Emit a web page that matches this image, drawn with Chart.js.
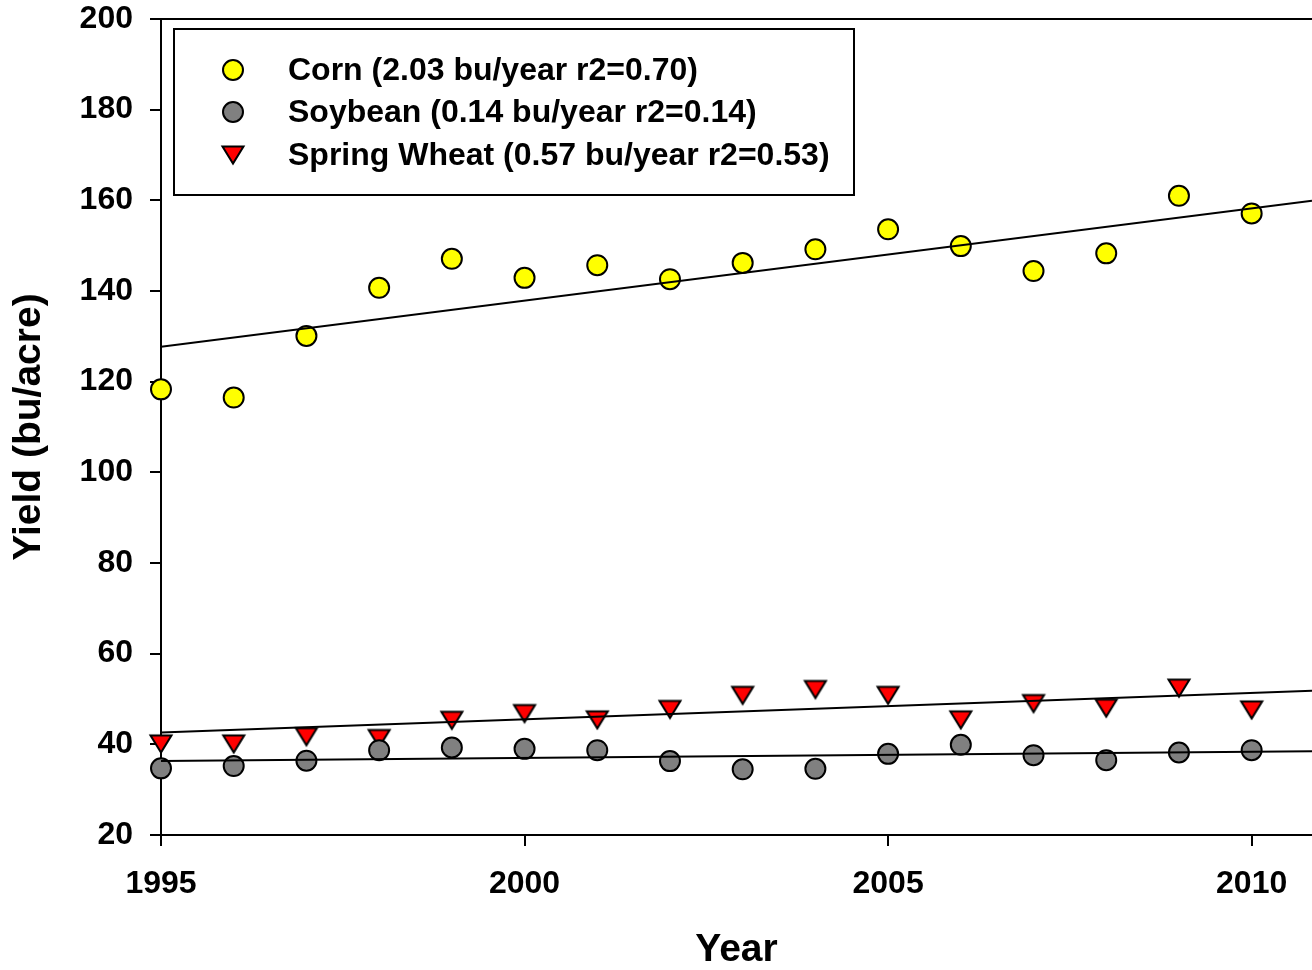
<!DOCTYPE html>
<html>
<head>
<meta charset="utf-8">
<script src="https://cdn.jsdelivr.net/npm/chart.js@4"></script>
<style>
  body { margin: 0; background: #fff; }
  #wrap { width: 1312px; height: 970px; }
</style>
</head>
<body>
<div id="wrap"><canvas id="chart" width="1312" height="970"></canvas></div>
<script>
// data
const years = [1995, 1996, 1997, 1998, 1999, 2000, 2001, 2002, 2003, 2004, 2005, 2006, 2007, 2008, 2009, 2010];
const cornYield = [118.3, 116.5, 130.1, 140.7, 147.1, 142.9, 145.7, 142.6, 146.2, 149.2, 153.6, 149.9, 144.4, 148.3, 161.0, 157.1];
const soyYield = [34.7, 35.2, 36.4, 38.7, 39.3, 39.0, 38.7, 36.3, 34.5, 34.6, 37.9, 39.9, 37.6, 36.5, 38.2, 38.7];
const wheatYield = [40.1, 40.1, 41.7, 41.3, 45.3, 46.8, 45.4, 47.7, 50.8, 52.1, 50.8, 45.4, 49.0, 48.0, 52.4, 47.6];

// regression line end points (x range of the axis)
const fitX = [1995, 2010.83];
const cornFit = [127.7, 159.9];
const soyFit = [36.3, 38.5];
const wheatFit = [42.6, 51.8];

const legendLabels = [
  "Corn (2.03 bu/year r2=0.70)",
  "Soybean (0.14 bu/year r2=0.14)",
  "Spring Wheat (0.57 bu/year r2=0.53)"
];
const xTicks = [1995, 2000, 2005, 2010];

const toPts = (xs, ys) => xs.map((x, i) => ({ x: x, y: ys[i] }));

// down triangle marker, centred on its bounding box
const tri = document.createElement("canvas");
tri.width = 26; tri.height = 24;
(function () {
  const c = tri.getContext("2d");
  c.beginPath();
  c.moveTo(2.5, 3.5); c.lineTo(23.5, 3.5); c.lineTo(13, 20.5); c.closePath();
  c.fillStyle = "#ff0000"; c.fill();
  c.lineWidth = 2; c.strokeStyle = "#000"; c.lineJoin = "miter"; c.stroke();
})();

const FONT = "'Liberation Sans', Arial, sans-serif";

const extras = {
  id: "extras",
  afterDraw(chart) {
    const ctx = chart.ctx;
    const a = chart.chartArea;
    ctx.save();
    // top frame line
    ctx.strokeStyle = "#000";
    ctx.lineWidth = 2;
    ctx.beginPath();
    ctx.moveTo(a.left, a.top);
    ctx.lineTo(a.right, a.top);
    ctx.stroke();

    // legend box
    ctx.fillStyle = "#fff";
    ctx.fillRect(174, 29, 680, 166);
    ctx.strokeRect(174, 29, 680, 166);
    const rows = [70, 112, 155];
    ctx.font = "bold 32px " + FONT;
    ctx.textBaseline = "middle";
    ctx.textAlign = "left";
    rows.forEach((y, i) => {
      if (i < 2) {
        ctx.beginPath();
        ctx.arc(233, y, 10, 0, Math.PI * 2);
        ctx.fillStyle = i === 0 ? "#ffff00" : "#808080";
        ctx.fill();
        ctx.stroke();
      } else {
        ctx.drawImage(tri, 233 - 13, y - 12);
      }
      ctx.fillStyle = "#000";
      ctx.fillText(legendLabels[i], 288, y + 1);
    });
    ctx.restore();
  }
};

const fitStyle = {
  type: "line",
  showLine: true,
  borderColor: "#000",
  borderWidth: 2,
  pointRadius: 0,
  fill: false,
  order: 0
};

new Chart(document.getElementById("chart"), {
  type: "scatter",
  data: {
    datasets: [
      { label: "Corn", data: toPts(years, cornYield), pointStyle: "circle", radius: 10,
        backgroundColor: "#ffff00", borderColor: "#000", borderWidth: 2, order: 1, clip: false },
      { label: "Soybean", data: toPts(years, soyYield), pointStyle: "circle", radius: 10,
        backgroundColor: "#808080", borderColor: "#000", borderWidth: 2, order: 1, clip: false },
      { label: "Spring Wheat", data: toPts(years, wheatYield), pointStyle: tri, order: 1, clip: false },
      Object.assign({ label: "corn fit", data: toPts(fitX, cornFit) }, fitStyle),
      Object.assign({ label: "soy fit", data: toPts(fitX, soyFit) }, fitStyle),
      Object.assign({ label: "wheat fit", data: toPts(fitX, wheatFit) }, fitStyle)
    ]
  },
  options: {
    responsive: false,
    animation: false,
    devicePixelRatio: 1,
    layout: { autoPadding: false, padding: { top: 19, right: 0, left: 0, bottom: 0 } },
    plugins: { legend: { display: false }, tooltip: { enabled: false } },
    scales: {
      x: {
        type: "linear",
        min: 1995,
        max: 2010.83,
        afterBuildTicks: (s) => { s.ticks = xTicks.map(v => ({ value: v })); },
        afterFit: (s) => { s.height = 135; s.paddingLeft = 0; s.paddingRight = 0; },
        border: { display: true, color: "#000", width: 2 },
        grid: { drawOnChartArea: false, drawTicks: true, tickLength: 11, color: "#000", lineWidth: 2 },
        ticks: {
          color: "#000",
          padding: 19,
          maxRotation: 0,
          autoSkip: false,
          font: { family: FONT, size: 32, weight: "bold" },
          callback: (v) => String(v)
        },
        title: {
          display: true,
          text: "Year",
          color: "#000",
          font: { family: FONT, size: 39, weight: "bold", lineHeight: 1 },
          padding: { top: 0, bottom: 0 }
        }
      },
      y: {
        min: 20,
        max: 200,
        afterFit: (s) => { s.width = 161; s.paddingTop = 0; s.paddingBottom = 0; },
        border: { display: true, color: "#000", width: 2 },
        grid: { drawOnChartArea: false, drawTicks: true, tickLength: 11, color: "#000", lineWidth: 2 },
        ticks: {
          stepSize: 20,
          color: "#000",
          padding: 17,
          font: { family: FONT, size: 32, weight: "bold" }
        },
        title: {
          display: true,
          text: "Yield (bu/acre)",
          color: "#000",
          font: { family: FONT, size: 39, weight: "bold", lineHeight: 1 },
          padding: { top: 10, bottom: 0 }
        }
      }
    }
  },
  plugins: [extras]
});
</script>
</body>
</html>
